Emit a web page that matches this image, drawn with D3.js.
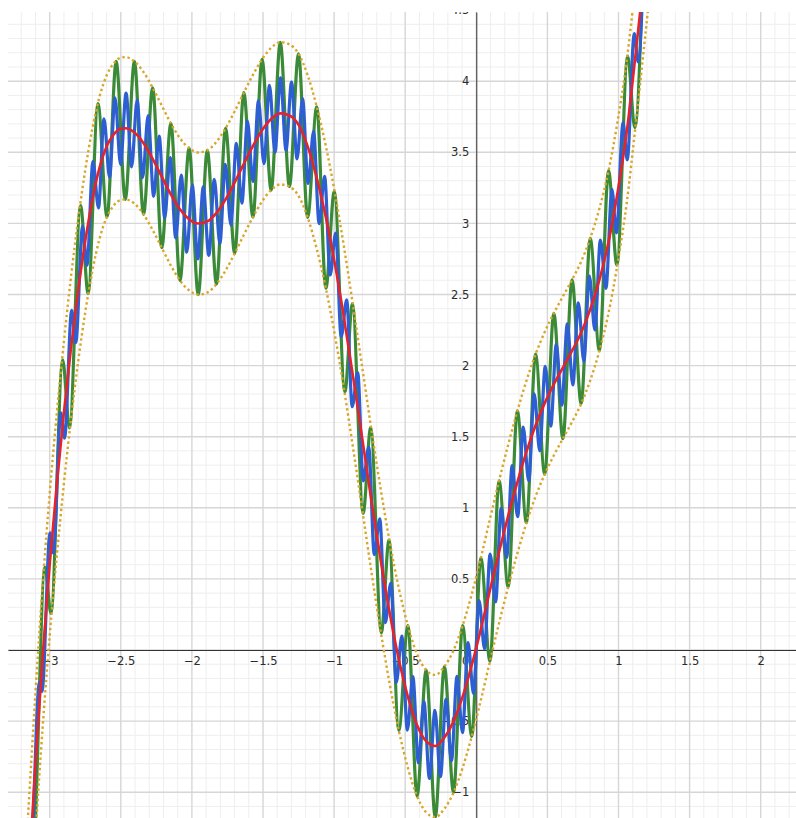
<!DOCTYPE html>
<html>
<head>
<meta charset="utf-8">
<script src="https://cdn.jsdelivr.net/npm/d3@7"></script>
<style>
  body { margin: 0; background: #fff; }
  svg { display: block; }
  .tick text { font-family: "DejaVu Sans", sans-serif; font-size: 11.5px; fill: #2b2b2b; }
</style>
</head>
<body>
<svg id="chart" width="796" height="818"></svg>
<script>
// axis labels
const xTicks = [-3, -2.5, -2, -1.5, -1, -0.5, 0.5, 1, 1.5, 2];
const yTicks = [-1, -0.5, 0.5, 1, 1.5, 2, 2.5, 3, 3.5, 4, 4.5];

// red curve
const redX = [-3.20, -3.15, -3.10, -3.05, -3.00, -2.95, -2.90, -2.85, -2.80, -2.75, -2.70, -2.65, -2.60, -2.55, -2.50, -2.468,
  -2.404, -2.340, -2.276, -2.212, -2.148, -2.084, -2.020, -1.955, -1.891, -1.827, -1.763, -1.699, -1.635, -1.571, -1.507, -1.443, -1.378,
  -1.314, -1.250, -1.186, -1.122, -1.058, -0.994, -0.930, -0.866, -0.801, -0.737, -0.673, -0.609, -0.545, -0.481, -0.417, -0.353, -0.289,
  -0.224, -0.160, -0.096, -0.032, 0.032, 0.096, 0.160, 0.224, 0.289, 0.353, 0.417, 0.481, 0.545, 0.609, 0.673, 0.737, 0.801, 0.866,
  0.930, 0.994, 1.058, 1.122, 1.186, 1.250];
const redY = [-2.50, -1.63, -0.80, -0.05, 0.60, 1.165, 1.67, 2.125, 2.527, 2.875, 3.165, 3.39, 3.54, 3.625, 3.665, 3.669,
  3.639, 3.564, 3.454, 3.329, 3.204, 3.099, 3.029, 2.999, 3.014, 3.074, 3.169, 3.289, 3.419, 3.544, 3.654, 3.734, 3.774,
  3.759, 3.693, 3.542, 3.320, 3.044, 2.712, 2.332, 1.917, 1.480, 1.046, 0.636, 0.260, -0.065, -0.329, -0.527, -0.641, -0.675,
  -0.616, -0.502, -0.328, -0.107, 0.147, 0.421, 0.689, 0.943, 1.181, 1.395, 1.580, 1.736, 1.868, 1.986, 2.103, 2.231, 2.395, 2.605,
  2.870, 3.221, 3.645, 4.206, 4.80, 5.41];

// dotted bounds (same x as the red curve)
const upperY = [-2.00, -1.13, -0.30, 0.45, 1.10, 1.665, 2.17, 2.625, 3.027, 3.375, 3.665, 3.89, 4.04, 4.125, 4.165, 4.169,
  4.139, 4.064, 3.954, 3.829, 3.704, 3.599, 3.529, 3.499, 3.514, 3.574, 3.669, 3.789, 3.919, 4.044, 4.154, 4.234, 4.274,
  4.259, 4.193, 4.042, 3.820, 3.544, 3.212, 2.832, 2.417, 1.980, 1.546, 1.136, 0.760, 0.435, 0.171, -0.027, -0.141, -0.175,
  -0.116, -0.002, 0.172, 0.393, 0.647, 0.921, 1.189, 1.443, 1.681, 1.895, 2.080, 2.236, 2.368, 2.486, 2.603, 2.731, 2.895, 3.105,
  3.370, 3.721, 4.145, 4.706, 5.30, 5.91];
const lowerY = [-3.00, -2.13, -1.30, -0.55, 0.10, 0.665, 1.17, 1.625, 2.027, 2.375, 2.665, 2.89, 3.04, 3.125, 3.165, 3.169,
  3.139, 3.064, 2.954, 2.829, 2.704, 2.599, 2.529, 2.499, 2.514, 2.574, 2.669, 2.789, 2.919, 3.044, 3.154, 3.234, 3.274,
  3.259, 3.193, 3.042, 2.820, 2.544, 2.212, 1.832, 1.417, 0.980, 0.546, 0.136, -0.240, -0.565, -0.829, -1.027, -1.141, -1.175,
  -1.116, -1.002, -0.828, -0.607, -0.353, -0.079, 0.189, 0.443, 0.681, 0.895, 1.080, 1.236, 1.368, 1.486, 1.603, 1.731, 1.895, 2.105,
  2.370, 2.721, 3.145, 3.706, 4.30, 4.91];

// green wave: its peaks and troughs
const greenX = [-3.1736, -3.124, -3.033, -2.9913, -2.9086, -2.8608, -2.7828, -2.7297, -2.6607, -2.5966,
  -2.5325, -2.4684, -2.4043, -2.3401, -2.2760, -2.2119, -2.1478, -2.0837, -2.0196, -1.9555,
  -1.8914, -1.8272, -1.7631, -1.6990, -1.6349, -1.5708, -1.5067, -1.4426, -1.3785, -1.3143,
  -1.2502, -1.1861, -1.1220, -1.0579, -0.9984, -0.9245, -0.8710, -0.7957, -0.7428, -0.6681,
  -0.6137, -0.5450, -0.4809, -0.4167, -0.3526, -0.2885, -0.2244, -0.1603, -0.0962, -0.0321,
  0.0321, 0.0962, 0.1603, 0.2244, 0.2885, 0.3526, 0.4167, 0.4809, 0.5450, 0.6091,
  0.6732, 0.7373, 0.8014, 0.8655, 0.9296, 0.9888, 1.0644, 1.1143, 1.1861];
const greenY = [-1.53, -1.577, 0.581, 0.257, 2.04, 1.562, 3.125, 2.507, 3.842, 3.046,
  4.139, 3.169, 4.139, 3.064, 3.954, 2.829, 3.704, 2.599, 3.529, 2.499,
  3.514, 2.574, 3.669, 2.789, 3.919, 3.044, 4.154, 3.234, 4.274, 3.259,
  4.193, 3.042, 3.820, 2.544, 3.225, 1.816, 2.435, 0.961, 1.564, 0.121,
  0.773, -0.565, 0.171, -1.027, -0.141, -1.175, -0.116, -1.002, 0.172, -0.607,
  0.647, -0.079, 1.189, 0.443, 1.681, 0.895, 2.080, 1.236, 2.368, 1.486,
  2.603, 1.731, 2.895, 2.105, 3.370, 2.707, 4.177, 3.674, 5.30];

// blue wave: its peaks and troughs
const blueX = [-3.1610, -3.1341, -3.0728, -3.0539, -2.9978, -2.9742, -2.9219, -2.8955, -2.8453, -2.8168,
  -2.7687, -2.7381, -2.6956, -2.6568, -2.6180, -2.5792, -2.5404, -2.5016, -2.4629, -2.4241,
  -2.3853, -2.3465, -2.3077, -2.2689, -2.2301, -2.1914, -2.1526, -2.1138, -2.0750, -2.0362,
  -1.9974, -1.9586, -1.9199, -1.8811, -1.8423, -1.8035, -1.7647, -1.7259, -1.6872, -1.6484,
  -1.6096, -1.5708, -1.5320, -1.4932, -1.4544, -1.4157, -1.3769, -1.3381, -1.2993, -1.2605,
  -1.2217, -1.1829, -1.1442, -1.1054, -1.0666, -1.0278, -0.9890, -0.9502, -0.9115, -0.8727,
  -0.8339, -0.7951, -0.7563, -0.7175, -0.6787, -0.6400, -0.6012, -0.5624, -0.5236, -0.4848,
  -0.4460, -0.4072, -0.3685, -0.3297, -0.2909, -0.2521, -0.2133, -0.1745, -0.1358, -0.0970,
  -0.0582, -0.0194, 0.0194, 0.0582, 0.0970, 0.1358, 0.1745, 0.2133, 0.2521, 0.2909,
  0.3297, 0.3685, 0.4072, 0.4460, 0.4848, 0.5236, 0.5624, 0.6012, 0.6400, 0.6787,
  0.7175, 0.7563, 0.7951, 0.8339, 0.8727, 0.9115, 0.9536, 0.9852, 1.0322, 1.0613,
  1.1111, 1.1383, 1.1830];
const blueY = [-1.571, -1.509, -0.228, -0.292, 0.824, 0.682, 1.667, 1.490, 2.389, 2.161,
  2.980, 2.705, 3.435, 3.109, 3.736, 3.325, 3.883, 3.414, 3.917, 3.398,
  3.867, 3.322, 3.758, 3.190, 3.614, 3.039, 3.463, 2.898, 3.339, 2.797,
  3.269, 2.751, 3.257, 2.773, 3.310, 2.859, 3.416, 2.989, 3.563, 3.142,
  3.719, 3.294, 3.861, 3.421, 3.970, 3.501, 4.024, 3.515, 3.994, 3.454,
  3.876, 3.281, 3.647, 2.998, 3.331, 2.637, 2.932, 2.202, 2.462, 1.711,
  1.951, 1.190, 1.427, 0.671, 0.922, 0.192, 0.470, -0.227, 0.097, -0.563,
  -0.187, -0.794, -0.363, -0.903, -0.425, -0.891, -0.347, -0.778, -0.186, -0.581,
  0.052, -0.307, 0.347, 0.009, 0.675, 0.338, 0.997, 0.651, 1.296, 0.937,
  1.567, 1.190, 1.802, 1.401, 1.994, 1.574, 2.150, 1.721, 2.293, 1.864,
  2.442, 2.030, 2.630, 2.251, 2.883, 2.543, 3.240, 2.934, 3.709, 3.447,
  4.335, 4.135, 5.022];

const svg = d3.select('#chart');
const plot = { left: 8, top: 12, right: 796, bottom: 818 };

const x = d3.scaleLinear().domain([-3.2932, 2.2482]).range([plot.left, plot.right]);
const y = d3.scaleLinear().domain([-1.1814, 4.4866]).range([plot.bottom, plot.top]);

svg.append('clipPath').attr('id', 'plot-clip')
    .append('rect')
    .attr('x', plot.left).attr('y', plot.top)
    .attr('width', plot.right - plot.left).attr('height', plot.bottom - plot.top);

const root = svg.append('g').attr('clip-path', 'url(#plot-clip)');

// grid: minor every 0.1, major every 0.5
const xGrid = d3.range(-33, 23).map(i => i / 10);
const yGrid = d3.range(-12, 45).map(i => i / 10);
const isMajor = v => Math.abs(Math.round(v * 10) % 5) === 0;

const grid = root.append('g').attr('class', 'grid');
[false, true].forEach(major => {
    grid.selectAll(null)
        .data(xGrid.filter(v => isMajor(v) === major))
        .enter().append('line')
        .attr('x1', d => x(d)).attr('x2', d => x(d))
        .attr('y1', plot.top).attr('y2', plot.bottom)
        .attr('stroke', major ? '#d6d6d6' : '#eeeeee')
        .attr('stroke-width', major ? 1.4 : 1);
    grid.selectAll(null)
        .data(yGrid.filter(v => isMajor(v) === major))
        .enter().append('line')
        .attr('y1', d => y(d)).attr('y2', d => y(d))
        .attr('x1', plot.left).attr('x2', plot.right)
        .attr('stroke', major ? '#d6d6d6' : '#eeeeee')
        .attr('stroke-width', major ? 1.4 : 1);
});

const fmt = d => String(d).replace('-', '\u2212');

// axes through the origin
const xAxis = root.append('g')
    .attr('transform', `translate(0,${y(0)})`)
    .call(d3.axisBottom(x).tickValues(xTicks).tickSize(0).tickSizeOuter(0).tickPadding(6.5).tickFormat(fmt));
const yAxis = root.append('g')
    .attr('transform', `translate(${x(0)},0)`)
    .call(d3.axisLeft(y).tickValues(yTicks).tickSize(0).tickSizeOuter(0).tickPadding(7).tickFormat(fmt));
[xAxis, yAxis].forEach(a => a.select('.domain').attr('stroke', '#333').attr('stroke-width', 1));
[xAxis, yAxis].forEach(a => a.attr('font-size', null).attr('font-family', null));

// origin label, bottom-left of the origin
yAxis.append('g').attr('class', 'tick')
    .attr('transform', `translate(0,${y(0)})`)
    .append('text')
    .attr('x', -7).attr('y', 6.5).attr('dy', '0.71em')
    .attr('text-anchor', 'end')
    .text('0');

const line = d3.line()
    .x(d => x(d[0]))
    .y(d => y(d[1]))
    .curve(d3.curveMonotoneX);

const series = [
    { name: 'green', pts: d3.zip(greenX, greenY), color: '#3a8a37', width: 3.2 },
    { name: 'blue', pts: d3.zip(blueX, blueY), color: '#2d5fd3', width: 3.2 },
    { name: 'upper', pts: d3.zip(redX, upperY), color: '#d8a628', width: 2.4, dash: '2.4 2.8' },
    { name: 'lower', pts: d3.zip(redX, lowerY), color: '#d8a628', width: 2.4, dash: '2.4 2.8' },
    { name: 'red', pts: d3.zip(redX, redY), color: '#e5232b', width: 2.6 }
];

root.append('g').attr('class', 'curves')
    .selectAll('path')
    .data(series)
    .enter()
    .append('path')
    .attr('class', d => 'curve ' + d.name)
    .attr('d', d => line(d.pts))
    .attr('fill', 'none')
    .attr('stroke', d => d.color)
    .attr('stroke-width', d => d.width)
    .attr('stroke-dasharray', d => d.dash || null)
    .attr('stroke-linejoin', 'round')
    .attr('stroke-linecap', d => d.dash ? 'butt' : 'round');
</script>
</body>
</html>
